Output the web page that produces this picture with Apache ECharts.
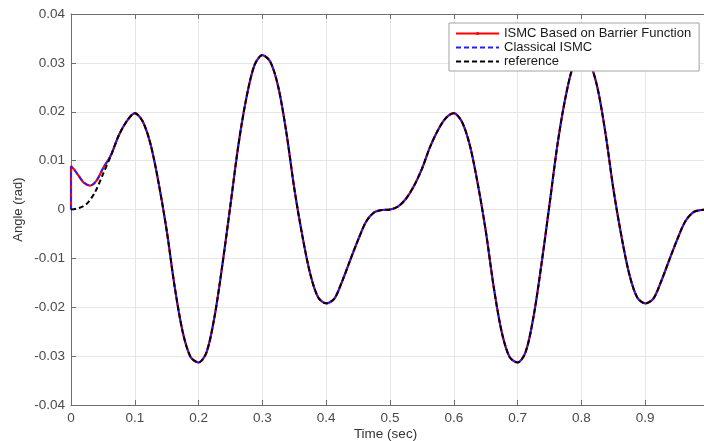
<!DOCTYPE html>
<html>
<head>
<meta charset="utf-8">
<script src="https://cdn.jsdelivr.net/npm/echarts@6/dist/echarts.min.js"></script>
<style>
html, body { margin: 0; padding: 0; background: #fff; }
#chart { width: 704px; height: 441px; }
</style>
</head>
<body>
<div id="chart"></div>
<script>
// sample times (sec)
var time = [
    0, 0.0125, 0.025, 0.0375, 0.05, 0.0625, 0.075, 0.0875, 0.1,
    0.1125, 0.125, 0.1375, 0.15, 0.1625, 0.175, 0.1875, 0.2,
    0.2125, 0.225, 0.2375, 0.25, 0.2625, 0.275, 0.2875, 0.3,
    0.3125, 0.325, 0.3375, 0.35, 0.3625, 0.375, 0.3875, 0.4,
    0.4125, 0.425, 0.4375, 0.45, 0.4625, 0.475, 0.4875, 0.5,
    0.5125, 0.525, 0.5375, 0.55, 0.5625, 0.575, 0.5875, 0.6,
    0.6125, 0.625, 0.6375, 0.65, 0.6625, 0.675, 0.6875, 0.7,
    0.7125, 0.725, 0.7375, 0.75, 0.7625, 0.775, 0.7875, 0.8,
    0.8125, 0.825, 0.8375, 0.85, 0.8625, 0.875, 0.8875, 0.9,
    0.9125, 0.925, 0.9375, 0.95, 0.9625, 0.975, 0.9875, 1
];
// reference angle (rad)
var reference = [
    0, 0.0003, 0.0012, 0.0035, 0.0072, 0.0110, 0.0152, 0.0181, 0.0197,
    0.0180, 0.0132, 0.0053, -0.0043, -0.0158, -0.0250, -0.0302, -0.0313,
    -0.0292, -0.0219, -0.0111, 0.0010, 0.0133, 0.0229, 0.0295, 0.0316,
    0.0302, 0.0250, 0.0158, 0.0043, -0.0053, -0.0132, -0.0180, -0.0192,
    -0.0183, -0.0147, -0.0104, -0.0062, -0.0025, -0.0006, -0.0001, 0,
    0.0006, 0.0022, 0.0048, 0.0083, 0.0127, 0.0162, 0.0187, 0.0197,
    0.0180, 0.0132, 0.0053, -0.0043, -0.0158, -0.0250, -0.0302, -0.0313,
    -0.0292, -0.0219, -0.0111, 0.0010, 0.0133, 0.0229, 0.0295, 0.0316,
    0.0302, 0.0250, 0.0158, 0.0043, -0.0053, -0.0132, -0.0180, -0.0192,
    -0.0183, -0.0147, -0.0104, -0.0062, -0.0025, -0.0006, -0.0001, 0
];
// start-up transient of both controllers, after that they sit on the reference
var startTime = [0, 0, 0.006, 0.0125, 0.02, 0.03, 0.04, 0.05, 0.0625];
var barrierStart = [0, 0.0089, 0.0080, 0.0068, 0.0055, 0.0049, 0.0059, 0.0084, 0.0111];
var classicStart = [0, 0.0088, 0.0080, 0.0068, 0.0055, 0.0049, 0.0059, 0.0084, 0.0111];
var joinIndex = 6; // first reference sample shared by the controllers

var xTicks = { min: 0, max: 1, interval: 0.1 };
var yTicks = { min: -0.04, max: 0.04, interval: 0.01 };

function pairs(ts, vs) {
    var out = [];
    for (var i = 0; i < ts.length; i++) out.push([ts[i], vs[i]]);
    return out;
}
function withStart(startVals) {
    return pairs(startTime, startVals).concat(pairs(time.slice(joinIndex), reference.slice(joinIndex)));
}

var font = "Liberation Sans";
var axisColor = "#6e6e6e";
var labelColor = "#4a4a4a";
var gridColor = "#e6e6e6";

function xAxisOpt(pos, main) {
    return {
        type: "value", position: pos, min: xTicks.min, max: xTicks.max, interval: xTicks.interval,
        axisLine: { show: true, onZero: false, lineStyle: { color: axisColor, width: 1 } },
        axisTick: { show: true, inside: true, length: 5, lineStyle: { color: axisColor } },
        axisLabel: { show: main, color: labelColor, fontSize: 13.5, fontFamily: font, margin: 6 },
        splitLine: { show: main, lineStyle: { color: gridColor, width: 1 } },
        name: main ? "Time (sec)" : "", nameLocation: "middle", nameGap: 22, nameMoveOverlap: false,
        nameTextStyle: { color: "#333", fontSize: 13.5, fontFamily: font, padding: [0, 9, 0, 0] }
    };
}
function yAxisOpt(pos, main) {
    return {
        type: "value", position: pos, min: yTicks.min, max: yTicks.max, interval: yTicks.interval,
        axisLine: { show: true, onZero: false, lineStyle: { color: axisColor, width: 1 } },
        axisTick: { show: true, inside: true, length: 5, lineStyle: { color: axisColor } },
        axisLabel: { show: main, color: labelColor, fontSize: 13.5, fontFamily: font, margin: 6 },
        splitLine: { show: main, lineStyle: { color: gridColor, width: 1 } },
        name: main ? "Angle (rad)" : "", nameLocation: "middle", nameGap: 46, nameMoveOverlap: false,
        nameTextStyle: { color: "#333", fontSize: 13, fontFamily: font }
    };
}

var chart = echarts.init(document.getElementById("chart"), null, { renderer: "canvas" });
chart.setOption({
    animation: false,
    backgroundColor: "#fff",
    grid: { left: 71, top: 14, width: 638, height: 391, outerBoundsMode: "none", containLabel: false },
    xAxis: [xAxisOpt("bottom", true), xAxisOpt("top", false)],
    yAxis: [yAxisOpt("left", true), yAxisOpt("right", false)],
    legend: {
        orient: "vertical", left: 449, top: 23, z: 20,
        padding: [4, 8, 3, 6], itemGap: 1, itemWidth: 43, itemHeight: 4,
        backgroundColor: "#fff", borderColor: "#a3a3a3", borderWidth: 1, borderRadius: 0,
        textStyle: { color: "#1a1a1a", fontSize: 13, fontFamily: font, lineHeight: 13 },
        data: [
            { name: "ISMC Based on Barrier Function" },
            { name: "Classical ISMC", itemStyle: { opacity: 0 } },
            { name: "reference", itemStyle: { opacity: 0 } }
        ]
    },
    series: [
        {
            name: "ISMC Based on Barrier Function", type: "line", smooth: 0.3,
            data: withStart(barrierStart),
            symbol: "circle", symbolSize: 3, showSymbol: false,
            itemStyle: { color: "#ff0000" },
            lineStyle: { color: "#ff0000", width: 2.2 }, z: 2
        },
        {
            name: "Classical ISMC", type: "line", smooth: 0.3,
            data: withStart(classicStart),
            symbol: "none",
            itemStyle: { color: "#2020ff" },
            lineStyle: { color: "#2020ff", width: 1.8, type: [5, 3] }, z: 3
        },
        {
            name: "reference", type: "line", smooth: 0.3,
            data: pairs(time, reference),
            symbol: "none",
            itemStyle: { color: "#000" },
            lineStyle: { color: "#000", width: 2, type: [5, 3] }, z: 4
        }
    ]
});
</script>
</body>
</html>
